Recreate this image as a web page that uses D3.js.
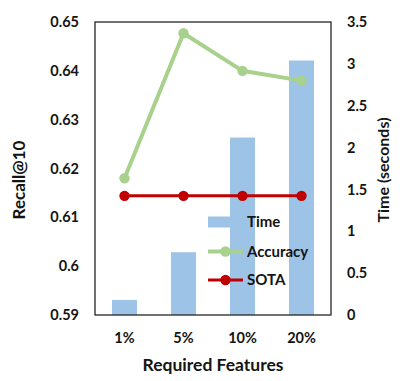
<!DOCTYPE html>
<html>
<head>
<meta charset="utf-8">
<script src="https://cdn.jsdelivr.net/npm/d3@7"></script>
<style>
  body { margin: 0; background: #fff; }
  text { font-family: Lato, "Open Sans", sans-serif; font-weight: bold; fill: #141414; }
</style>
</head>
<body>
<svg id="chart" width="407" height="381"></svg>
<script>
var categories = ['1%', '5%', '10%', '20%'];
var timeValues = [0.18, 0.75, 2.12, 3.04];
var accuracyValues = [0.618, 0.6477, 0.640, 0.638];
var sotaValues = [0.6144, 0.6144, 0.6144, 0.6144];
var leftTicks = [0.59, 0.6, 0.61, 0.62, 0.63, 0.64, 0.65];
var rightTicks = [0, 0.5, 1, 1.5, 2, 2.5, 3, 3.5];

var colors = { time: '#9dc3e6', accuracy: '#a9d18e', sota: '#c00000' };

var plotL = 95, plotR = 331, plotT = 22, plotB = 315;
var svg = d3.select('#chart');

var x = d3.scaleBand().domain(categories).range([plotL, plotR]).paddingInner(0.576).paddingOuter(0.288);
var yL = d3.scaleLinear().domain([0.59, 0.65]).range([plotB, plotT]);
var yR = d3.scaleLinear().domain([0, 3.5]).range([plotB, plotT]);

// bars (time)
svg.append('g').selectAll('rect')
    .data(timeValues).enter()
    .append('rect')
    .attr('x', function(d, i){ return x(categories[i]); })
    .attr('y', function(d){ return yR(d); })
    .attr('width', x.bandwidth())
    .attr('height', function(d){ return plotB - yR(d); })
    .attr('fill', colors.time);

// frame
svg.append('rect')
    .attr('x', plotL).attr('y', plotT)
    .attr('width', plotR - plotL).attr('height', plotB - plotT)
    .attr('fill', 'none').attr('stroke', '#262626').attr('stroke-width', 1.3);

function cx(i){ return x(categories[i]) + x.bandwidth() / 2; }

function series(vals, color, width) {
    var line = d3.line().x(function(d, i){ return cx(i); }).y(function(d){ return yL(d); });
    svg.append('path').datum(vals)
        .attr('d', line).attr('fill', 'none')
        .attr('stroke', color).attr('stroke-width', width);
    svg.append('g').selectAll('circle')
        .data(vals).enter()
        .append('circle')
        .attr('cx', function(d, i){ return cx(i); })
        .attr('cy', function(d){ return yL(d); })
        .attr('r', 5.2)
        .attr('fill', color);
}
series(accuracyValues, colors.accuracy, 4);
series(sotaValues, colors.sota, 3);

// axes (labels only)
var num = function(d){ return String(+d.toFixed(2)); };
var axL = svg.append('g').attr('transform', 'translate(' + plotL + ',0)')
    .call(d3.axisLeft(yL).tickValues(leftTicks).tickSize(0).tickPadding(16).tickFormat(num));
var axR = svg.append('g').attr('transform', 'translate(' + plotR + ',0)')
    .call(d3.axisRight(yR).tickValues(rightTicks).tickSize(0).tickPadding(16).tickFormat(num));
var axB = svg.append('g').attr('transform', 'translate(0,' + plotB + ')')
    .call(d3.axisBottom(x).tickSize(0).tickPadding(18));
[axL, axR, axB].forEach(function(a){
    a.select('.domain').remove();
    a.attr('font-family', null).attr('font-size', null);
    a.selectAll('text').style('font-size', '14.5px');
});

// axis titles
svg.append('text').attr('transform', 'translate(25,180) rotate(-90)')
    .attr('text-anchor', 'middle').style('font-size', '17px').text('Recall@10');
svg.append('text').attr('transform', 'translate(389,170) rotate(-90)')
    .attr('text-anchor', 'middle').style('font-size', '16px').text('Time (seconds)');
svg.append('text').attr('x', 213).attr('y', 371)
    .attr('text-anchor', 'middle').style('font-size', '17.5px').text('Required Features');

// legend
var legend = [
    { name: 'Time', type: 'bar', color: colors.time, y: 222 },
    { name: 'Accuracy', type: 'line', color: colors.accuracy, y: 251.5 },
    { name: 'SOTA', type: 'line', color: colors.sota, y: 280 }
];
var lg = svg.append('g').selectAll('g').data(legend).enter().append('g');
lg.filter(function(d){ return d.type === 'bar'; }).append('rect')
    .attr('x', 208).attr('y', function(d){ return d.y - 5.5; })
    .attr('width', 35).attr('height', 11).attr('fill', function(d){ return d.color; });
lg.filter(function(d){ return d.type === 'line'; }).append('line')
    .attr('x1', 208).attr('x2', 243)
    .attr('y1', function(d){ return d.y; }).attr('y2', function(d){ return d.y; })
    .attr('stroke', function(d){ return d.color; })
    .attr('stroke-width', function(d){ return d.name === 'SOTA' ? 3 : 4; });
lg.filter(function(d){ return d.type === 'line'; }).append('circle')
    .attr('cx', 225.5).attr('cy', function(d){ return d.y; }).attr('r', 5.2)
    .attr('fill', function(d){ return d.color; });
lg.append('text').attr('x', 247).attr('y', function(d){ return d.y; })
    .attr('dy', '0.36em').style('font-size', '15px')
    .text(function(d){ return d.name; });
</script>
</body>
</html>
